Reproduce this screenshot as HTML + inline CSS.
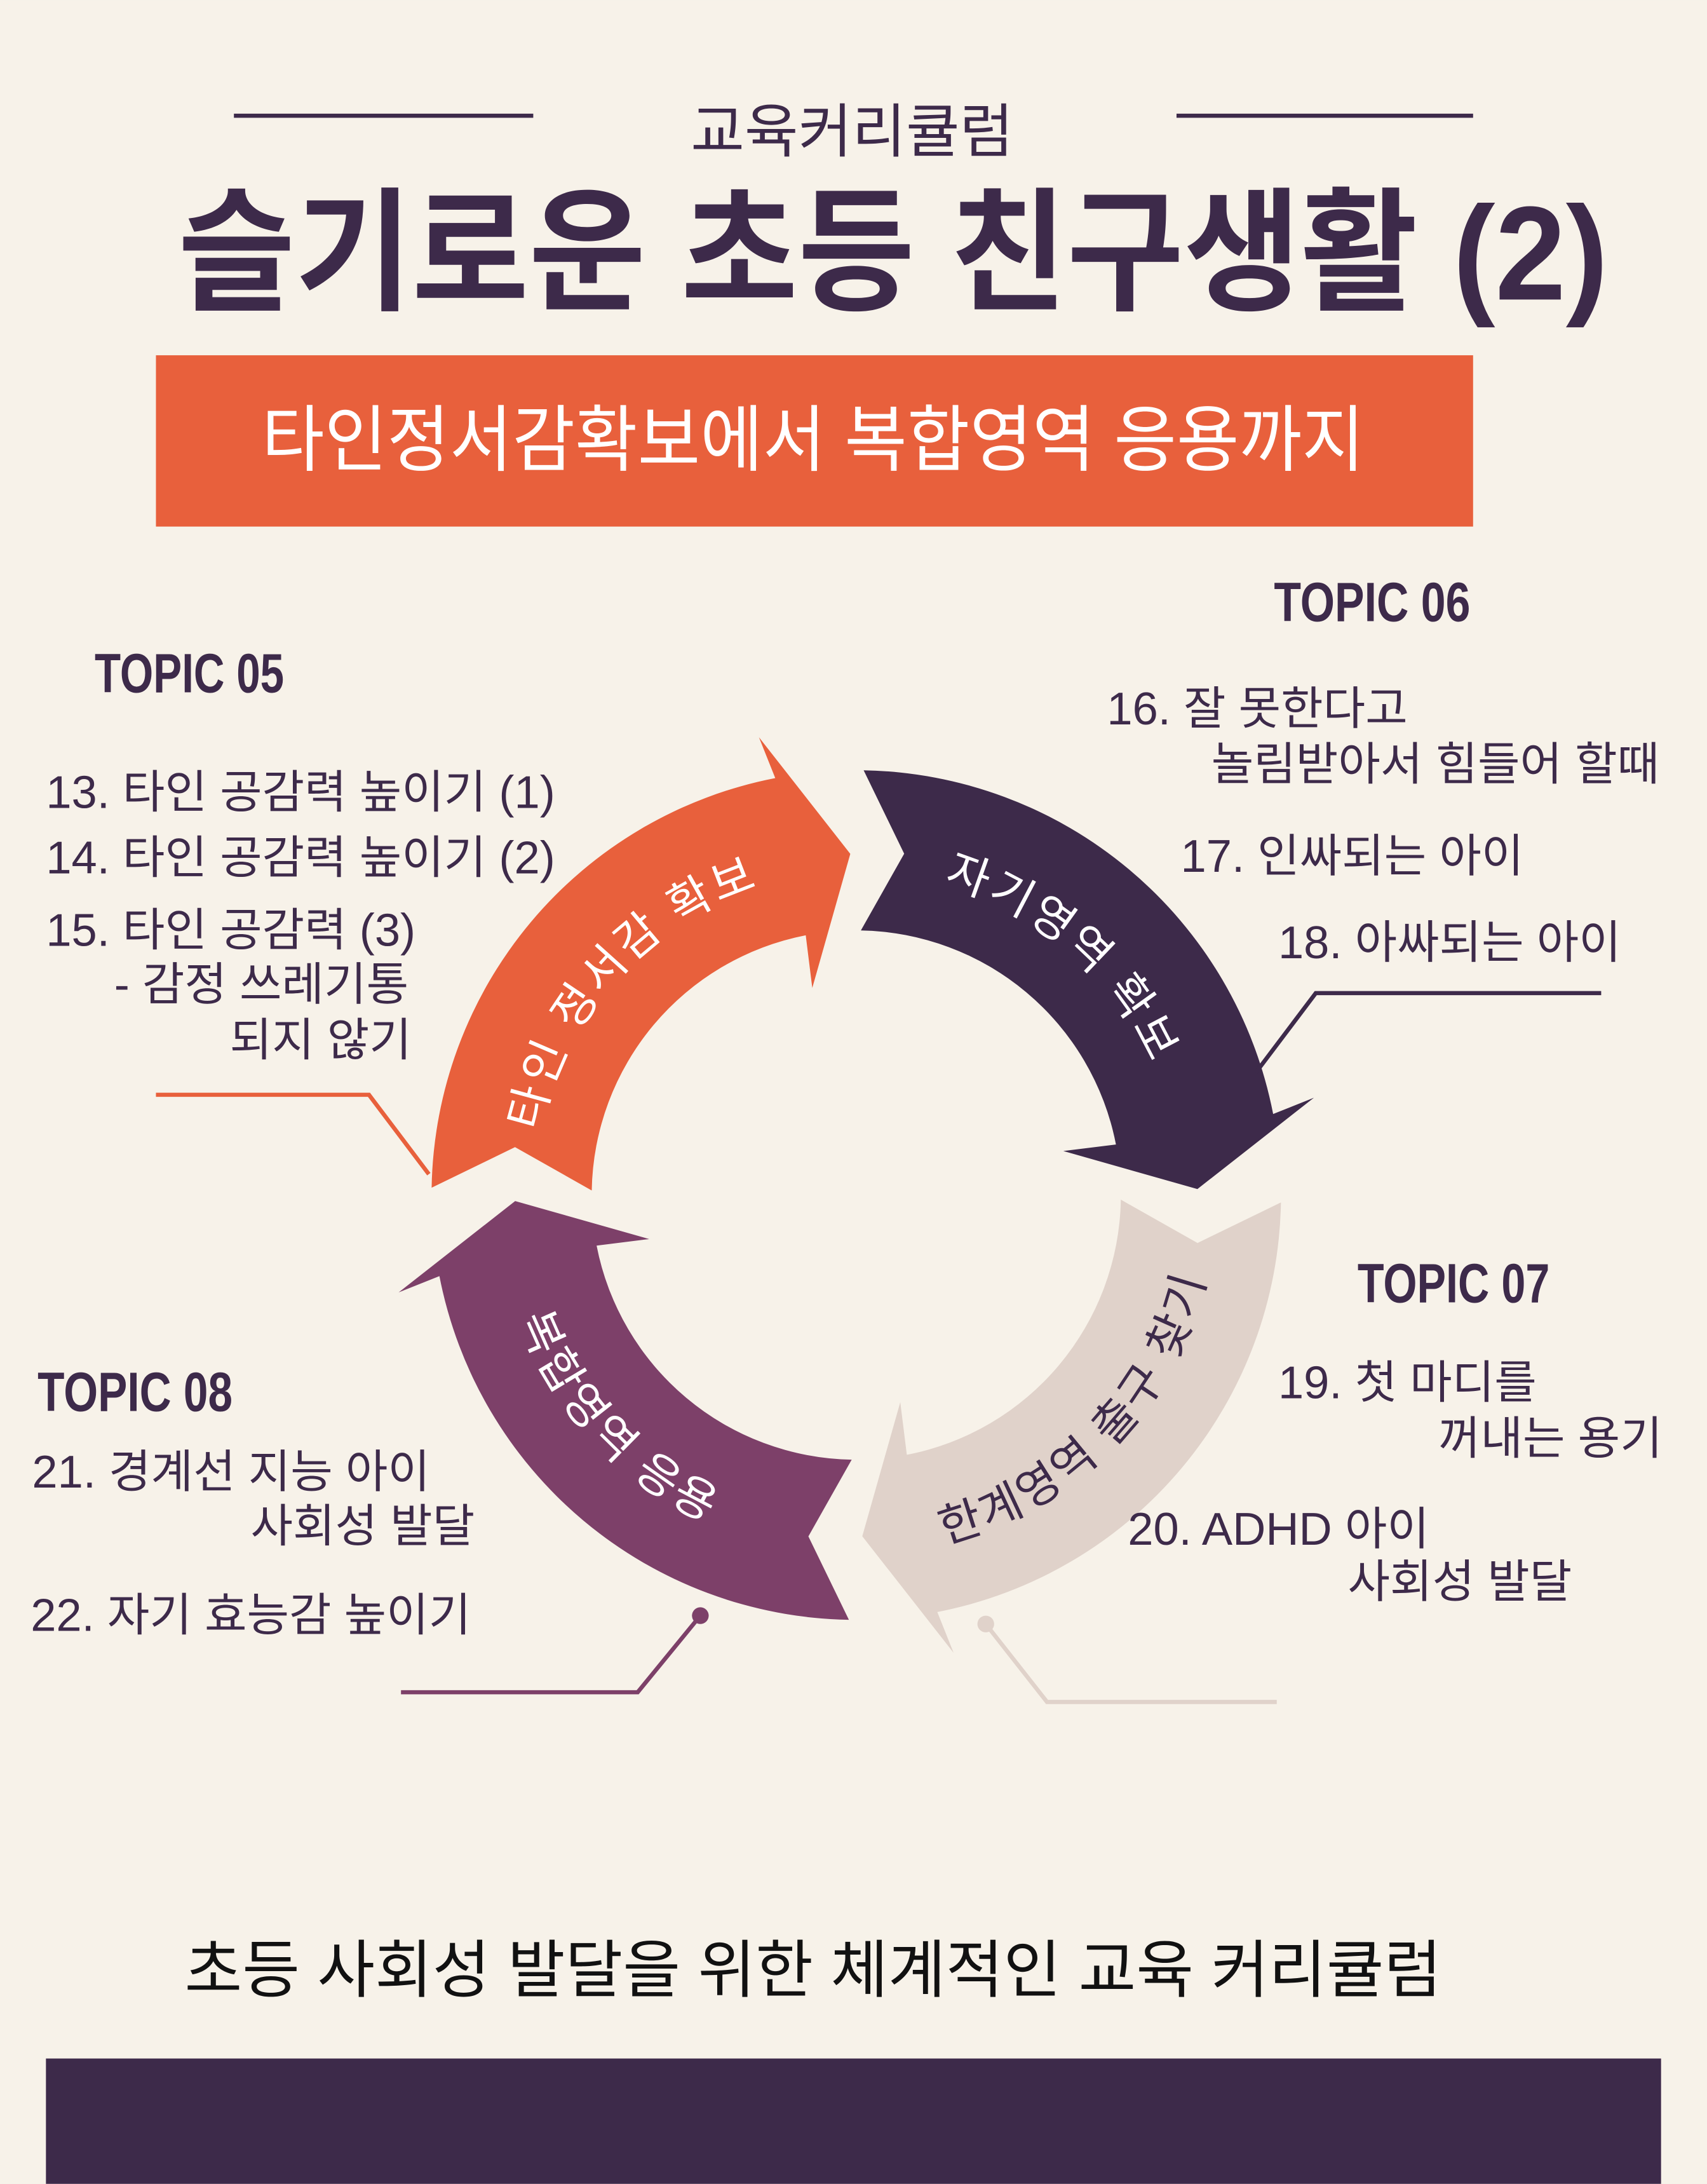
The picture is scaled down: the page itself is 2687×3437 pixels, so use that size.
<!DOCTYPE html>
<html><head><meta charset="utf-8">
<style>
html,body{margin:0;padding:0;background:#f7f2e9;}
svg{display:block;}
text{font-family:"Liberation Sans","Noto Sans CJK KR",sans-serif;}
.t{fill:#3d2a4a;font-size:33px;}
.tp{font-family:"Liberation Sans Narrow","Liberation Sans",sans-serif;font-weight:bold;font-size:40px;fill:#3d2a4a;}
</style></head>
<body>
<svg id="s" width="2687" height="3437" viewBox="0 0 1226 1568" xmlns="http://www.w3.org/2000/svg">
<rect width="1226" height="1568" fill="#f7f2e9"/>
<line x1="168" y1="83" x2="383" y2="83" stroke="#3d2a4a" stroke-width="3"/>
<line x1="845" y1="83" x2="1058" y2="83" stroke="#3d2a4a" stroke-width="3"/>
<text x="612" y="109" text-anchor="middle" style="font-size:42px;fill:#3d2a4a">교육커리큘럼</text>
<text x="128" y="215" textLength="1027" lengthAdjust="spacingAndGlyphs" style="font-size:96px;font-weight:bold;fill:#3d2a4a">슬기로운 초등 친구생활 (2)</text>
<rect x="112" y="255" width="946" height="123" fill="#e8603c"/>
<text x="188" y="334" textLength="792" lengthAdjust="spacingAndGlyphs" style="font-size:52px;fill:#fff">타인정서감확보에서 복합영역 응용까지</text>

<g id="arrows"></g>

<polyline points="112,786 265,786 308,843" fill="none" stroke="#e8603c" stroke-width="3"/>
<polyline points="1150,713 945,713 902,770" fill="none" stroke="#3d2a4a" stroke-width="3"/>
<polyline points="288,1215 458,1215 503,1160" fill="none" stroke="#7d4069" stroke-width="3"/>
<circle cx="503" cy="1160" r="6" fill="#7d4069"/>
<polyline points="917,1222 752,1222 708,1166" fill="none" stroke="#e0d2ca" stroke-width="3"/>
<circle cx="708" cy="1166" r="6" fill="#e0d2ca"/>

<text x="68" y="497" class="tp" textLength="136" lengthAdjust="spacingAndGlyphs">TOPIC 05</text>
<text x="33" y="580" class="t">13. 타인 공감력 높이기 (1)</text>
<text x="33" y="627" class="t">14. 타인 공감력 높이기 (2)</text>
<text x="33" y="679" class="t">15. 타인 공감력 (3)</text>
<text x="82" y="718" class="t">- 감정 쓰레기통</text>
<text x="165" y="758" class="t">되지 않기</text>

<text x="915" y="446" class="tp" textLength="141" lengthAdjust="spacingAndGlyphs">TOPIC 06</text>
<text x="795" y="520" class="t">16. 잘 못한다고</text>
<text x="870" y="560" class="t">놀림받아서 힘들어 할때</text>
<text x="848" y="626" class="t">17. 인싸되는 아이</text>
<text x="918" y="688" class="t">18. 아싸되는 아이</text>

<text x="975" y="935" class="tp" textLength="138" lengthAdjust="spacingAndGlyphs">TOPIC 07</text>
<text x="918" y="1004" class="t">19. 첫 마디를</text>
<text x="1033" y="1044" class="t">꺼내는 용기</text>
<text x="810" y="1109" class="t">20. ADHD 아이</text>
<text x="968" y="1147" class="t">사회성 발달</text>

<text x="27" y="1013" class="tp" textLength="140" lengthAdjust="spacingAndGlyphs">TOPIC 08</text>
<text x="23" y="1068" class="t">21. 경계선 지능 아이</text>
<text x="180" y="1107" class="t">사회성 발달</text>
<text x="22" y="1171" class="t">22. 자기 효능감 높이기</text>

<text x="584" y="1430" text-anchor="middle" style="font-size:45px;fill:#111">초등 사회성 발달을 위한 체계적인 교육 커리큘럼</text>
<rect x="33" y="1478" width="1160" height="90" fill="#3d2a4a"/>
</svg>
<script>
(function(){
var cx=615,cy=858,ri=190,ro=305,hi=152,ho=336,rt=245;
function P(r,a){a=a*Math.PI/180;return (cx+r*Math.cos(a)).toFixed(1)+","+(cy+r*Math.sin(a)).toFixed(1);}
var g=document.getElementById("arrows");
var NS="http://www.w3.org/2000/svg";
var defs=document.createElementNS(NS,"defs");g.appendChild(defs);
var A=[
 {s:180,c:"#e8603c",tc:"#fff",txt:"타인 정서감 확보",t0:188,t1:256,cw:1},
 {s:270,c:"#3d2a4a",tc:"#fff",txt:"자기영역 확보",t0:278,t1:344,cw:1},
 {s:0,c:"#e0d2ca",tc:"#3d2a4a",txt:"한계영역 출구 찾기",t0:5,t1:84,cw:0},
 {s:90,c:"#7d4069",tc:"#fff",txt:"복합영역 응용",t0:102,t1:172,cw:0}
];
A.forEach(function(o,i){
 var s=o.s+1,b=o.s+79,t=o.s+89;
 var d="M"+P(ro,s)+" A"+ro+","+ro+" 0 0 1 "+P(ro,b)+" L"+P(ho,b-1)+" L"+P(rt,t)+" L"+P(hi,b-1)+" L"+P(ri,b)+
   " A"+ri+","+ri+" 0 0 0 "+P(ri,s)+" L"+P((ri+ro)/2,s+7)+" Z";
 var p=document.createElementNS(NS,"path");p.setAttribute("d",d);p.setAttribute("fill",o.c);g.appendChild(p);
 var tp=document.createElementNS(NS,"path");tp.setAttribute("id","tp"+i);
 var r=o.cw?232:258;
 if(o.cw) tp.setAttribute("d","M"+P(r,o.t0)+" A"+r+","+r+" 0 0 1 "+P(r,o.t1));
 else tp.setAttribute("d","M"+P(r,o.t1)+" A"+r+","+r+" 0 0 0 "+P(r,o.t0));
 defs.appendChild(tp);
 var tx=document.createElementNS(NS,"text");
 tx.setAttribute("style","font-size:33px;letter-spacing:2px;fill:"+o.tc);
 var tpa=document.createElementNS(NS,"textPath");
 tpa.setAttribute("href","#tp"+i);tpa.setAttributeNS("http://www.w3.org/1999/xlink","xlink:href","#tp"+i);
 tpa.setAttribute("startOffset","50%");tpa.setAttribute("text-anchor","middle");
 tpa.textContent=o.txt;tx.appendChild(tpa);g.appendChild(tx);
});
})();
</script>
</body></html>
